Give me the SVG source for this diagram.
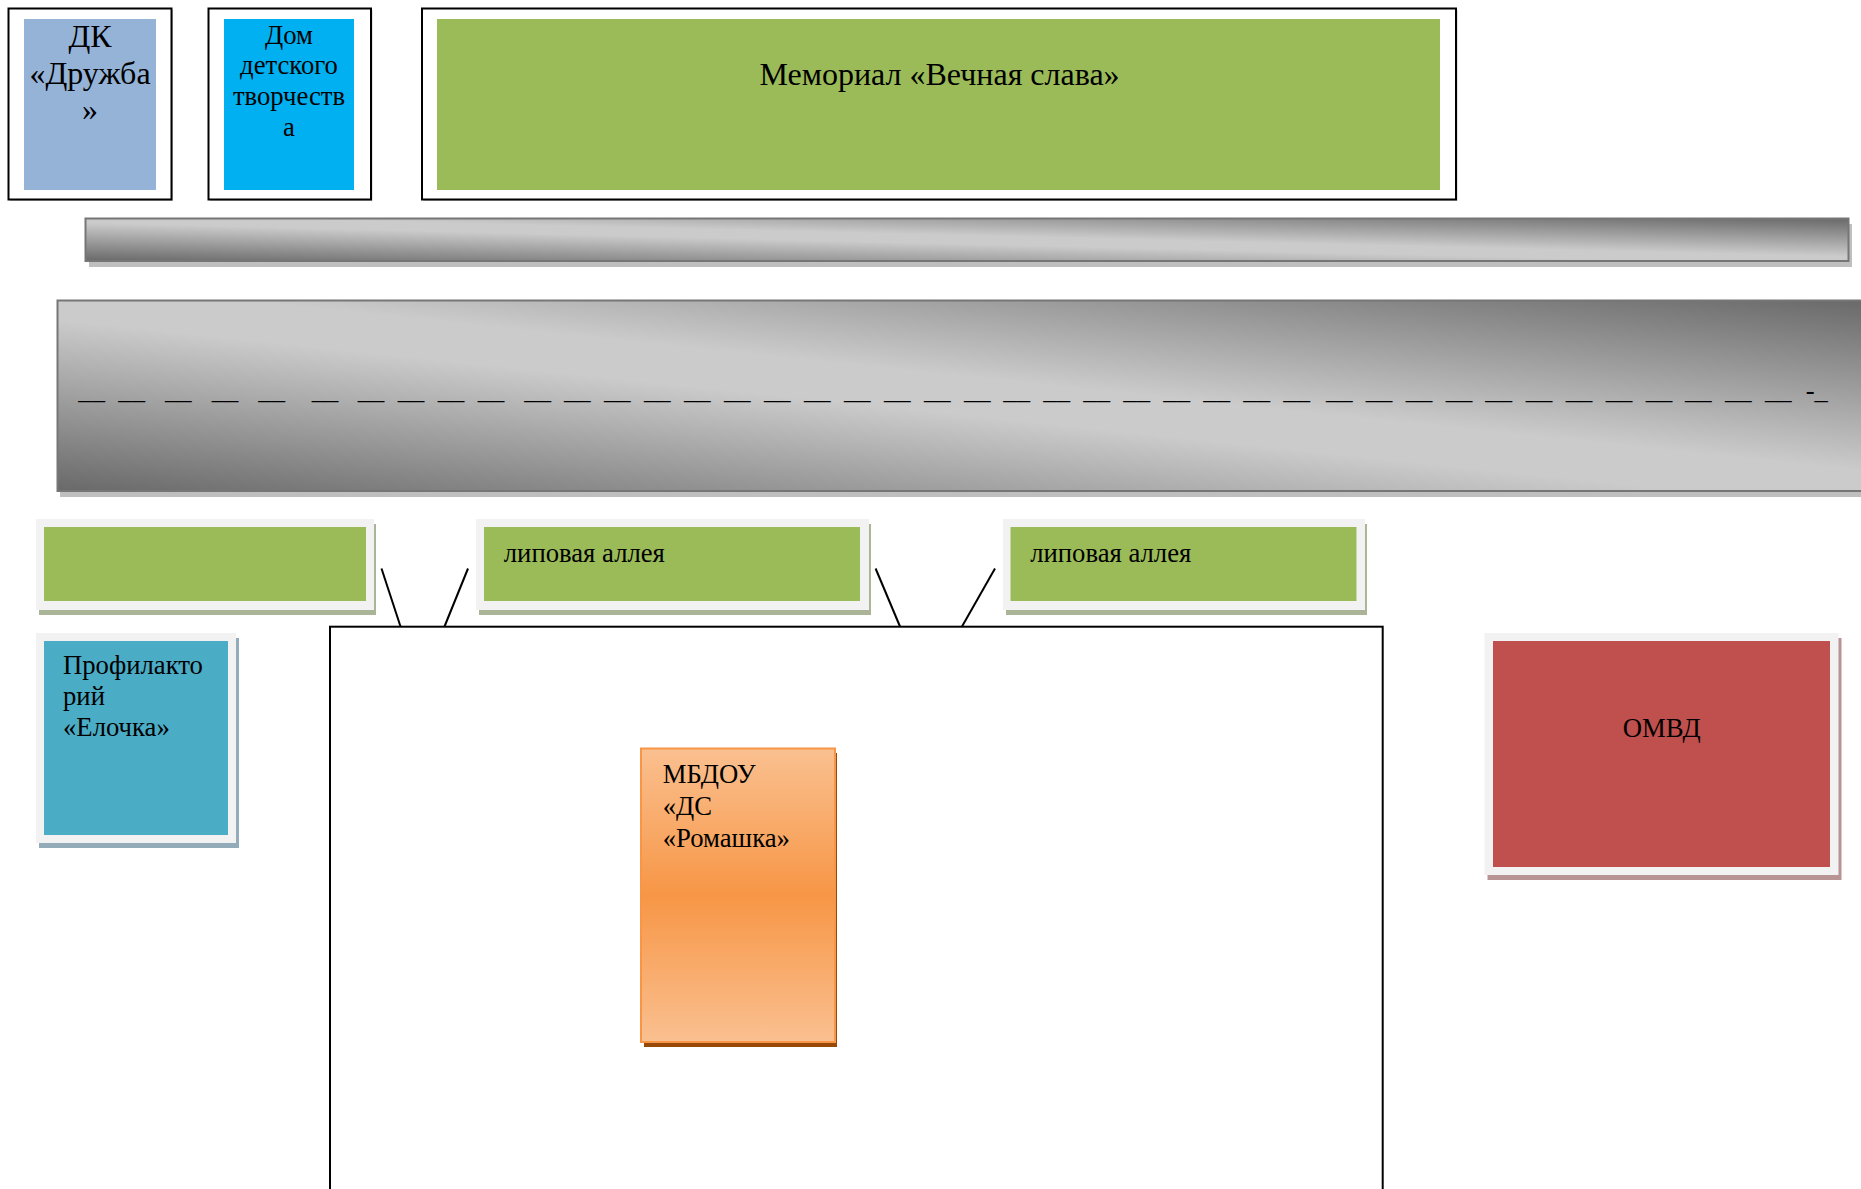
<svg xmlns="http://www.w3.org/2000/svg" width="1861" height="1189" viewBox="0 0 1861 1189">
<defs>
<linearGradient id="metal" x1="0" y1="1" x2="1" y2="0">
<stop offset="0" stop-color="#696969"/>
<stop offset="0.45" stop-color="#cbcbcb"/>
<stop offset="0.55" stop-color="#cbcbcb"/>
<stop offset="1" stop-color="#696969"/>
</linearGradient>
<linearGradient id="orange" x1="0" y1="0" x2="0" y2="1">
<stop offset="0" stop-color="#FAC090"/>
<stop offset="0.5" stop-color="#F79646"/>
<stop offset="1" stop-color="#FAC090"/>
</linearGradient>
</defs>
<style>
text { font-family: "Liberation Serif", "Times New Roman", serif; fill: #000; }
.t20 { font-size: 26.7px; }
.t24 { font-size: 32px; }
.mid { text-anchor: middle; }
.frame { fill: #fff; stroke: #000; stroke-width: 2; }
.pale { fill: #F2F2F2; }
.bar { fill: url(#metal); stroke: #767676; stroke-width: 2; }
.barshadow { fill: #BFBFBF; }
.conn { stroke: #000; stroke-width: 2; fill: none; }
.green { fill: #9BBB59; }
.gshadow { fill: #AAB497; }
</style>
<rect x="0" y="0" width="1861" height="1189" fill="#fff"/>

<g id="dk-druzhba">
<rect x="10" y="10" width="163" height="191" fill="#c8c8c8"/>
<rect class="frame" x="8.5" y="8.5" width="163" height="191"/>
<rect x="24" y="19" width="132" height="171" fill="#95B3D7"/>
<text class="t24 mid" x="90" y="46.7">ДК</text>
<text class="t24 mid" x="90" y="83.5">«Дружба</text>
<text class="t24 mid" x="90" y="120.3">»</text>
</g>

<g id="dom-tvorchestva">
<rect x="210" y="10" width="162.5" height="191" fill="#c8c8c8"/>
<rect class="frame" x="208.5" y="8.5" width="162.5" height="191"/>
<rect x="224" y="19" width="130" height="171" fill="#00B0F0"/>
<text class="t20 mid" x="289" y="43.5">Дом</text>
<text class="t20 mid" x="289" y="74.3">детского</text>
<text class="t20 mid" x="289" y="105">творчеств</text>
<text class="t20 mid" x="289" y="135.8">а</text>
</g>

<g id="memorial">
<rect x="423.5" y="10" width="1034" height="191" fill="#c8c8c8"/>
<rect class="frame" x="422" y="8.5" width="1034" height="191"/>
<rect class="green" x="437" y="19" width="1003" height="171"/>
<text class="t24 mid" x="939.5" y="85">Мемориал «Вечная слава»</text>
</g>

<g id="road-top">
<rect class="barshadow" x="89" y="224" width="1763" height="43"/>
<rect class="bar" x="85.5" y="218.5" width="1763" height="42.5"/>
</g>

<g id="road-main">
<rect class="barshadow" x="60" y="305" width="1810" height="192"/>
<rect class="bar" x="57.5" y="300.5" width="1815" height="190.5"/>
<text class="t20" y="399"><tspan x="78.3">__</tspan><tspan x="118.3">__</tspan><tspan x="165">__</tspan><tspan x="211.7">__</tspan><tspan x="258.3">__</tspan><tspan x="311.7">__</tspan><tspan x="357.7">__</tspan><tspan x="397.7">__</tspan><tspan x="437.7">__</tspan><tspan x="477.7">__</tspan><tspan x="524.3">__</tspan><tspan x="564">__</tspan><tspan x="604">__</tspan><tspan x="644">__</tspan><tspan x="684">__</tspan><tspan x="724">__</tspan><tspan x="764">__</tspan><tspan x="804">__</tspan><tspan x="844">__</tspan><tspan x="884">__</tspan><tspan x="924">__</tspan><tspan x="964">__</tspan><tspan x="1003.3">__</tspan><tspan x="1043.3">__</tspan><tspan x="1083.3">__</tspan><tspan x="1123.3">__</tspan><tspan x="1163.3">__</tspan><tspan x="1203.3">__</tspan><tspan x="1243.3">__</tspan><tspan x="1283.3">__</tspan><tspan x="1326">__</tspan><tspan x="1365.7">__</tspan><tspan x="1405.7">__</tspan><tspan x="1445.7">__</tspan><tspan x="1485.3">__</tspan><tspan x="1525.7">__</tspan><tspan x="1565.7">__</tspan><tspan x="1605.7">__</tspan><tspan x="1645.7">__</tspan><tspan x="1685">__</tspan><tspan x="1725">__</tspan><tspan x="1765">__</tspan><tspan x="1805.7">-_</tspan></text>
</g>

<g id="territory">
<rect x="330" y="626.7" width="1052.7" height="620" fill="#fff" stroke="#000" stroke-width="2"/>
</g>

<g id="connectors">
<line class="conn" x1="381.5" y1="568.5" x2="400.5" y2="626.5"/>
<line class="conn" x1="468" y1="568.5" x2="444.5" y2="626.5"/>
<line class="conn" x1="875.6" y1="568.5" x2="900" y2="626.5"/>
<line class="conn" x1="995" y1="568.5" x2="962" y2="626.5"/>
</g>

<g id="alley-1">
<rect class="gshadow" x="39" y="524" width="337" height="91"/>
<rect class="pale" x="36" y="519" width="338" height="91"/>
<rect class="green" x="44" y="527" width="322" height="74"/>
</g>

<g id="alley-2">
<rect class="gshadow" x="479" y="524" width="392" height="91"/>
<rect class="pale" x="476" y="519" width="393" height="91"/>
<rect class="green" x="484" y="527" width="376" height="74"/>
<text class="t20" x="503.8" y="561.7">липовая аллея</text>
</g>

<g id="alley-3">
<rect class="gshadow" x="1006" y="524" width="361" height="91"/>
<rect class="pale" x="1003" y="519" width="362" height="91"/>
<rect class="green" x="1010.5" y="527" width="346" height="74"/>
<text class="t20" x="1030.2" y="561.7">липовая аллея</text>
</g>

<g id="profilaktory">
<rect x="39" y="638" width="200" height="210" fill="#94ABB9"/>
<rect class="pale" x="36" y="633" width="200" height="210"/>
<rect x="44" y="641" width="184" height="194" fill="#4BACC6"/>
<text class="t20" x="63" y="674">Профилакто</text>
<text class="t20" x="63" y="704.7">рий</text>
<text class="t20" x="63" y="735.5">«Елочка»</text>
</g>

<g id="mbdou">
<rect x="644" y="753" width="193" height="294" fill="#984807"/>
<rect x="641" y="748.5" width="194" height="293.5" fill="url(#orange)" stroke="#F79646" stroke-width="2"/>
<text class="t20" x="662.7" y="783.3">МБДОУ</text>
<text class="t20" x="662.7" y="815">«ДС</text>
<text class="t20" x="662.7" y="846.7">«Ромашка»</text>
</g>

<g id="omvd">
<rect x="1487.5" y="638" width="354" height="242" fill="#B89494"/>
<rect class="pale" x="1484.5" y="633" width="354" height="242"/>
<rect x="1493" y="641" width="337" height="226" fill="#C0504D"/>
<text class="t20 mid" x="1661.7" y="736.7">ОМВД</text>
</g>
</svg>
